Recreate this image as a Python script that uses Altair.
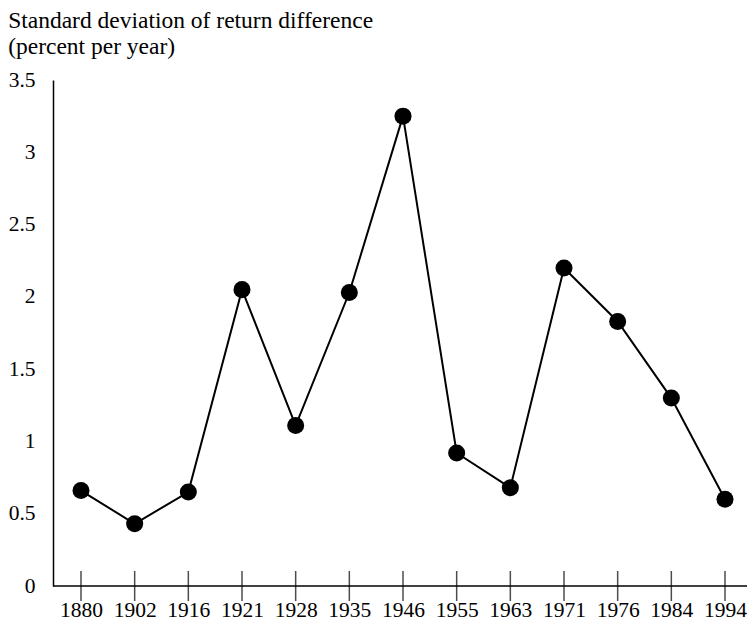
import altair as alt
import pandas as pd

years = ["1880", "1902", "1916", "1921", "1928", "1935", "1946",
         "1955", "1963", "1971", "1976", "1984", "1994"]
std_dev = [0.66, 0.43, 0.65, 2.05, 1.11, 2.03, 3.25,
           0.92, 0.68, 2.20, 1.83, 1.30, 0.60]
y_ticks = [0, 0.5, 1, 1.5, 2, 2.5, 3, 3.5]

df = pd.DataFrame({"year": years, "sd": std_dev})
FONT = "Liberation Serif"
LBL = 21.5

x_enc = alt.X("year:O", sort=years,
              scale=alt.Scale(type="point", range=[28, 672], padding=0),
              axis=alt.Axis(title=None, labelAngle=0, ticks=False, domain=False,
                            labelFont=FONT, labelFontSize=LBL, labelColor="black",
                            labelPadding=13))
y_enc = alt.Y("sd:Q", scale=alt.Scale(domain=[0, 3.5], nice=False, zero=True),
              axis=alt.Axis(title=None, values=y_ticks, format="~g", ticks=False,
                            grid=False, domainColor="black", domainWidth=1.5,
                            labelFont=FONT, labelFontSize=LBL, labelColor="black",
                            labelPadding=18))

base = alt.Chart(df)

line = base.mark_line(color="black", strokeWidth=2).encode(x=x_enc, y=y_enc)
pts = base.mark_circle(color="black", opacity=1, size=290).encode(x=x_enc, y=y_enc)
ticks = base.mark_tick(color="black", thickness=1.5, size=30, orient="vertical").encode(
    x=x_enc, y=alt.datum(0))
xaxis = alt.Chart(pd.DataFrame({"v": [0]})).mark_rule(color="black", strokeWidth=1.5).encode(
    x=alt.value(0), x2=alt.value(694), y=alt.Y("v:Q", scale=alt.Scale(domain=[0, 3.5])))

chart = alt.layer(xaxis, line, ticks, pts).properties(
    width=694, height=506,
    autosize=alt.AutoSizeParams(type="none"),
    padding={"left": 45, "top": 72, "right": 0, "bottom": 35},
    title=alt.TitleParams(
        text=["Standard deviation of return difference", "(percent per year)"],
        anchor="start", frame="bounds", font=FONT, fontSize=23.5, fontWeight="normal",
        color="black", lineHeight=26, offset=11),
).configure_view(stroke=None)

chart.save("out.html", embed_options={"renderer": "svg", "actions": False})
